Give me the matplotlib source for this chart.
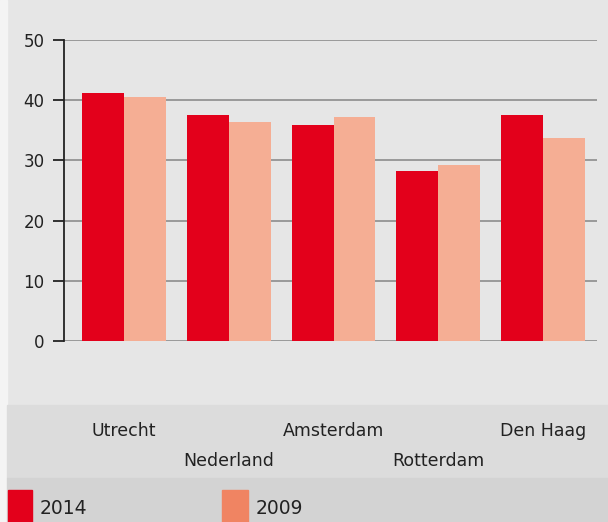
import matplotlib.pyplot as plt
from matplotlib.patches import Rectangle
import numpy as np

# data
cities = ["Utrecht", "Nederland", "Amsterdam", "Rotterdam", "Den Haag"]
v2014 = [41.2, 37.5, 35.9, 28.2, 37.5]
v2009 = [40.5, 36.4, 37.2, 29.2, 33.7]
years = ["2014", "2009"]

red = "#e3001b"
salmon = "#f5ae94"
salmon_leg = "#f08462"

W, H = 608, 522
fig = plt.figure(figsize=(W / 100, H / 100), dpi=100)
fig.patch.set_facecolor("#e6e6e6")

# background bands (in pixels, converted to figure fractions)
def band(x0, y0, x1, y1, color):
    fig.patches.append(Rectangle((x0 / W, 1 - y1 / H), (x1 - x0) / W, (y1 - y0) / H,
                                 transform=fig.transFigure, color=color, zorder=0))

band(0, 0, 7, H, "#f4f4f4")
band(7, 405, W, 478, "#dcdcdc")
band(7, 478, W, H, "#d3d3d3")

ax = fig.add_axes([64 / W, (H - 341) / H, (597 - 64) / W, (341 - 40) / H])
ax.set_facecolor("none")
ax.set_zorder(2)

x = np.arange(len(cities))
bw = 0.40
ax.bar(x - bw / 2, v2014, bw, color=red, zorder=3)
ax.bar(x + bw / 2, v2009, bw, color=salmon, zorder=3)

ax.set_xlim(-0.573, 4.515)
ax.set_ylim(0, 50)
ax.set_yticks(range(0, 51, 10))
for yv in range(0, 51, 10):
    ax.axhline(yv, color="#858585", lw=1.1, zorder=1)

for s in ["top", "right", "bottom"]:
    ax.spines[s].set_visible(False)
ax.spines["left"].set_color("#222222")
ax.spines["left"].set_linewidth(1.3)
ax.tick_params(axis="y", length=8, width=1.3, color="#222222", pad=6,
               labelsize=12, labelcolor="#222222")

# staggered city labels
ax.set_xticks(x)
ax.set_xticklabels([])
ax.tick_params(axis="x", length=0)
for i, c in enumerate(cities):
    ypix = 431 if i % 2 == 0 else 461
    ax.text(i, 1 - (ypix - 40) / (341 - 40), c, transform=ax.get_xaxis_transform(),
            ha="center", va="center", fontsize=12.5, color="#222222", clip_on=False)

# legend
band(8, 490, 32, H, red)
band(222, 490, 248, H, salmon_leg)
fig.text(40 / W, 1 - 508 / H, years[0], fontsize=13.5, color="#222222", va="center")
fig.text(256 / W, 1 - 508 / H, years[1], fontsize=13.5, color="#222222", va="center")

fig.savefig("out.png", dpi=100, facecolor=fig.get_facecolor())
